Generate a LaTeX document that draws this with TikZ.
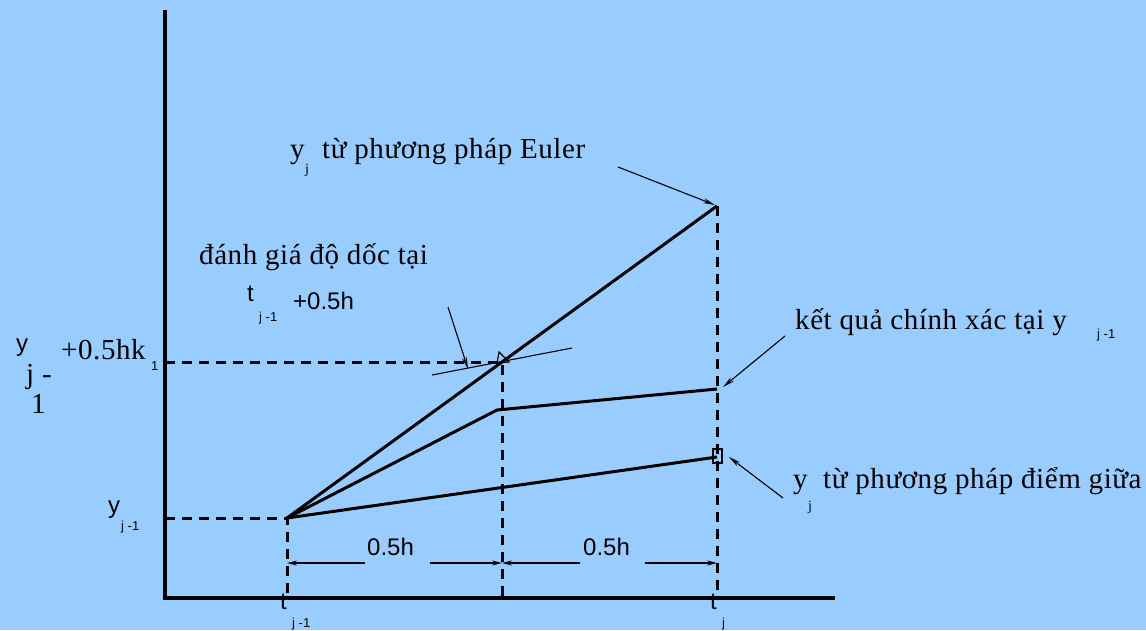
\documentclass[tikz,border=0pt]{standalone}
\usepackage{fontspec}
\setmainfont{Liberation Serif}[LetterSpace=2.0]
\newfontfamily\sansf{Liberation Sans}
\usetikzlibrary{arrows.meta}
\definecolor{bg}{RGB}{153,204,255}
\tikzset{
  curve/.style={line width=3pt},
  axisline/.style={line width=3.2pt},
  dashline/.style={line width=3pt, dash pattern=on 10pt off 7pt},
  thinline/.style={line width=1.1pt},
  pointer/.style={line width=1.1pt, -{Stealth[length=12pt,width=5pt]}},
  dimarrow/.style={line width=1.1pt, -{Stealth[length=10pt,width=5pt]}},
  seriftxt/.style={font=\fontsize{29}{31}\selectfont, inner sep=0pt, anchor=base west},
  sanstxt/.style={font=\sansf\fontsize{24}{26}\selectfont, inner sep=0pt, anchor=base west},
  sanssub/.style={font=\sansf\fontsize{13}{15}\selectfont, inner sep=0pt, anchor=base west},
  serifsub/.style={font=\fontsize{14}{15}\selectfont, inner sep=0pt, anchor=base west},
}
\begin{document}
\begin{tikzpicture}[x=1pt,y=-1pt]
\fill[bg] (0,0) rectangle (1146,630);
\useasboundingbox (0,0) rectangle (1146,630);
% axes
\coordinate (top) at (165,10);
\coordinate (O) at (165,598);
\coordinate (xend) at (835,598);
\draw[axisline] (top) -- (O) -- (xend);
% key points
\coordinate (P0) at (287,518);
\coordinate (M) at (502,362);
\coordinate (E) at (717,206);
\coordinate (X1) at (497,410);
\coordinate (X2) at (717,389);
\coordinate (D) at (717,457);
\coordinate (B0) at (287,598);
\coordinate (BM) at (502,598);
\coordinate (B1) at (717,598);
\coordinate (L0) at (165,518);
\coordinate (LM) at (165,362);
% dashed guides
\draw[dashline] (L0) -- (P0) -- (B0);
\draw[dashline] (LM) -- (M) -- (BM);
\draw[dashline] (E) -- (B1);
% solid curves
\draw[curve] (P0) -- (E);
\draw[curve] (P0) -- (X1) -- (X2);
\draw[curve] (P0) -- (D);
% tangent and markers
\coordinate (T1) at (432,375);
\coordinate (T2) at (572,348);
\draw[thinline] (T1) -- (T2);
\draw[thinline] (499,352) -- (497,363) -- (509,362) -- cycle;
\draw[thinline] (713,449) rectangle (722,463);
% pointers
\coordinate (a1) at (618,167); \coordinate (a1e) at (715,205);
\coordinate (a2) at (785,336); \coordinate (a2e) at (723,387);
\coordinate (a3) at (783,498); \coordinate (a3e) at (729,457);
\coordinate (a4) at (448,307); \coordinate (a4e) at (468,369);
\draw[pointer] (a1) -- (a1e);
\draw[pointer] (a2) -- (a2e);
\draw[pointer] (a3) -- (a3e);
\draw[pointer] (a4) -- (a4e);
% dimension arrows
\coordinate (d0) at (287,563); \coordinate (d1) at (365,563);
\coordinate (d2) at (430,563); \coordinate (dm) at (502,563);
\coordinate (d3) at (580,563); \coordinate (d4) at (645,563);
\coordinate (d5) at (717,563);
\draw[dimarrow] (d1) -- (d0);
\draw[dimarrow] (d2) -- (dm);
\draw[dimarrow] (d3) -- (dm);
\draw[dimarrow] (d4) -- (d5);
\node[sanstxt] (h1) at (367,555) {0.5h};
\node[sanstxt] (h2) at (583,555) {0.5h};
% axis labels
\node[sanstxt] (t0) at (280,609) {t};
\node[sanssub] (t0s) at (292,627) {j -1};
\node[sanstxt] (t1) at (710,609) {t};
\node[sanssub] (t1s) at (722,627) {j};
\node[sanstxt] (y0) at (108,513) {y};
\node[sanssub] (y0s) at (121,530) {j -1};
\node[sanstxt] (ym) at (16,351) {y};
\node[seriftxt] (ymj) at (26,383) {j -};
\node[seriftxt] (ym1) at (31,413) {1};
\node[seriftxt] (ymk) at (61,359) {+0.5hk};
\node[sanssub] (ymk1) at (151,370) {1};
% annotations
\node[seriftxt] (slope) at (199,264) {đánh giá độ dốc tại};
\node[sanstxt] (st) at (247,301) {t};
\node[sanssub] (sts) at (259,321) {j -1};
\node[sanstxt] (sth) at (293,309) {+0.5h};
\node[seriftxt] (eul) at (290,158) {y};
\node[serifsub] (euls) at (305,173) {j};
\node[seriftxt] (eult) at (322,158) {từ phương pháp Euler};
\node[seriftxt] (ex) at (795,329) {kết quả chính xác tại y};
\node[sanssub] (exs) at (1097,338) {j -1};
\node[seriftxt] (mid) at (793,488) {y};
\node[serifsub] (mids) at (808,510) {j};
\node[seriftxt] (midt) at (823,488) {từ phương pháp điểm giữa};
\end{tikzpicture}
\end{document}
